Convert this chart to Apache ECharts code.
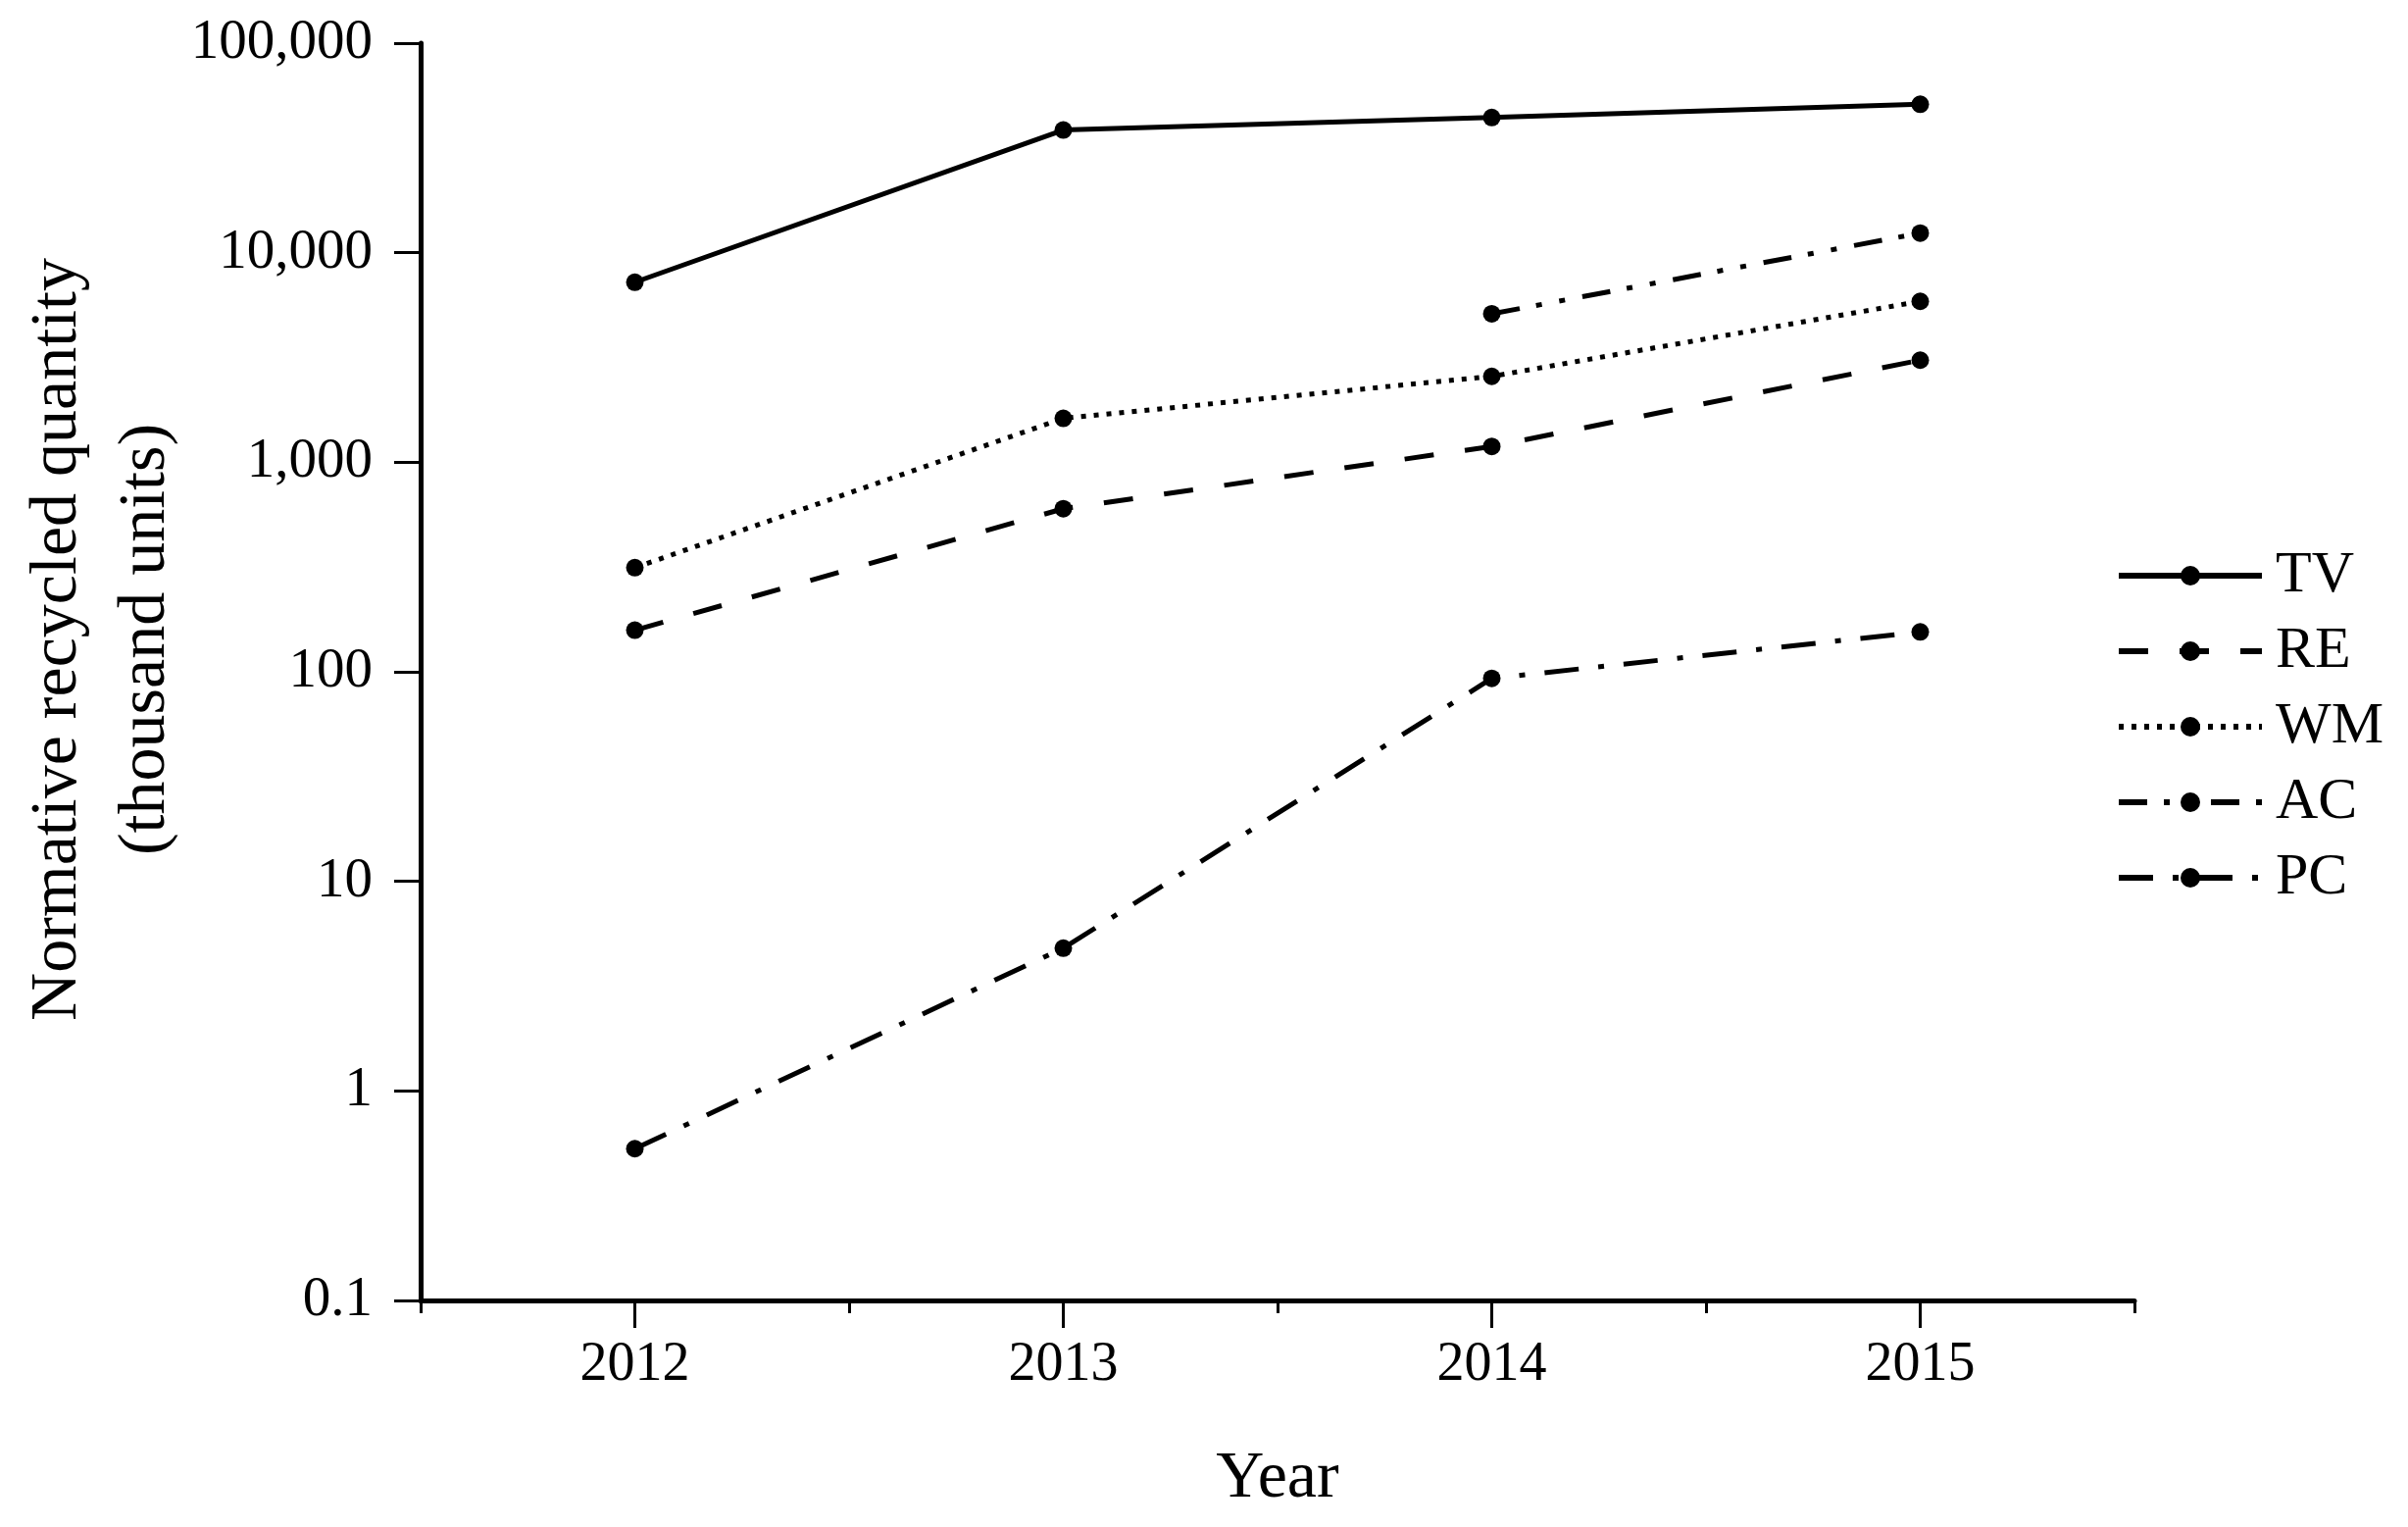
<!DOCTYPE html>
<html>
<head>
<meta charset="utf-8">
<script src="https://cdn.jsdelivr.net/npm/echarts@6/dist/echarts.min.js"></script>
<style>
html,body{margin:0;padding:0;background:#fff;}
#chart{width:2456px;height:1557px;}
</style>
</head>
<body>
<div id="chart"></div>
<script>
// ---- data ----
const years = ['2012', '2013', '2014', '2015'];
const seriesNames = ['TV', 'RE', 'WM', 'AC', 'PC'];
const tvValues = [7230, 38500, 44200, 51100];
const reValues = [158, 600, 1190, 3070];
const wmValues = [314, 1620, 2570, 5860];
const acValues = [null, null, 5110, 12400];
const pcValues = [0.53, 4.8, 93, 155];
const yTickLabels = ['0.1', '1', '10', '100', '1,000', '10,000', '100,000'];

const FONT = '"Liberation Serif", "Times New Roman", serif';
const chart = echarts.init(document.getElementById('chart'), null, {renderer: 'canvas'});

const lineStyles = {
  TV: 'solid',
  RE: [30, 32],
  WM: [5, 8],
  AC: [29, 17, 6, 18, 6, 18],
  PC: [35, 20, 6, 20]
};
const valuesByName = {TV: tvValues, RE: reValues, WM: wmValues, AC: acValues, PC: pcValues};

const series = seriesNames.map(name => ({
  name: name,
  type: 'line',
  xAxisIndex: 0,
  yAxisIndex: 0,
  data: valuesByName[name],
  connectNulls: false,
  symbol: 'circle',
  symbolSize: 18,
  showSymbol: true,
  animation: false,
  itemStyle: {color: '#000'},
  lineStyle: {color: '#000', width: 5, type: lineStyles[name]},
  emphasis: {disabled: true}
}));

const option = {
  backgroundColor: '#fff',
  animation: false,
  grid: {left: 429, right: 279, top: 44, bottom: 231, containLabel: false, outerBoundsMode: 'none'},
  legend: {
    orient: 'vertical',
    left: 2153,
    top: 552,
    itemWidth: 146,
    itemHeight: 25,
    itemGap: 17,
    data: seriesNames,
    lineStyle: {width: 6},
    textStyle: {fontFamily: FONT, fontSize: 60, color: '#000', lineHeight: 60, padding: [0, 0, 0, 9]},
    selectedMode: false
  },
  xAxis: [
    {
      type: 'category',
      data: years,
      boundaryGap: true,
      position: 'bottom',
      name: 'Year',
      nameLocation: 'middle',
      nameGap: 148,
      nameTextStyle: {fontFamily: FONT, fontSize: 68, color: '#000'},
      axisLine: {show: true, lineStyle: {color: '#000', width: 5}},
      axisTick: {show: true, alignWithLabel: true, length: 28, lineStyle: {color: '#000', width: 3}},
      axisLabel: {fontFamily: FONT, fontSize: 56, color: '#000', margin: 38},
      splitLine: {show: false}
    },
    {
      type: 'category',
      data: years,
      boundaryGap: true,
      position: 'bottom',
      axisLine: {show: false},
      axisTick: {show: true, alignWithLabel: false, interval: 0, length: 13, lineStyle: {color: '#000', width: 3}},
      axisLabel: {show: false},
      splitLine: {show: false}
    }
  ],
  yAxis: {
    type: 'log',
    logBase: 10,
    min: 0.1,
    max: 100000,
    interval: 1,
    axisLine: {show: true, lineStyle: {color: '#000', width: 5}},
    axisTick: {show: true, length: 27, lineStyle: {color: '#000', width: 3}},
    axisLabel: {
      fontFamily: FONT, fontSize: 57, color: '#000', margin: 49,
      formatter: function (value, index) { return yTickLabels[index] !== undefined ? yTickLabels[index] : ''; }
    },
    splitLine: {show: false},
    minorTick: {show: false}
  },
  graphic: [
    {
      type: 'text',
      x: 104,
      y: 652,
      rotation: Math.PI / 2,
      silent: true,
      style: {
        text: 'Normative recycled quantity\n(thousand units)',
        fontFamily: FONT,
        fontSize: 68,
        lineHeight: 90,
        fill: '#000',
        align: 'center',
        verticalAlign: 'middle'
      }
    }
  ],
  series: series
};
chart.setOption(option);
</script>
</body>
</html>
